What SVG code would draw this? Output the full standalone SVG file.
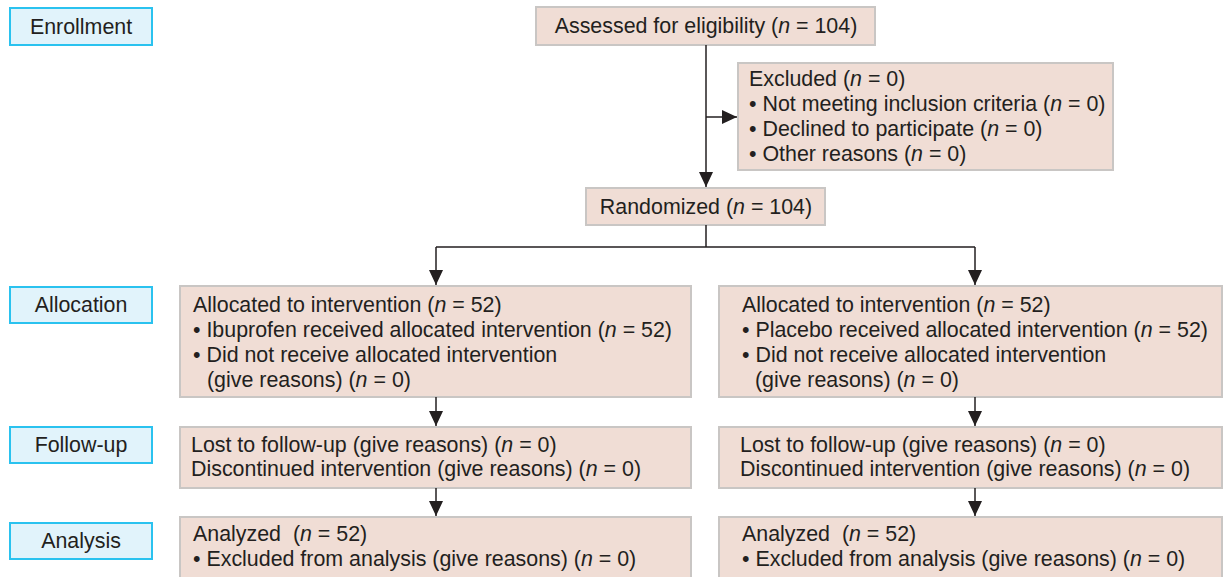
<svg xmlns="http://www.w3.org/2000/svg" width="1224" height="577" viewBox="0 0 1224 577">
<style>
.lbl rect{fill:#e1f3fb;stroke:#2ac2ef;stroke-width:2}
.box rect{fill:#f0ddd5;stroke:#c9c6c4;stroke-width:2}
text{font-family:"Liberation Sans",Arial,sans-serif;font-size:21.4px;fill:#231f20}
.c{text-anchor:middle}
.pre{white-space:pre}
.conn path{fill:none;stroke:#231f20;stroke-width:1.5}
</style>
<defs>
<marker id="ah" markerWidth="15" markerHeight="14" refX="15" refY="7" orient="auto" markerUnits="userSpaceOnUse" viewBox="0 0 15 14">
<path d="M0,0 L15,7 L0,14 Z" fill="#231f20"/>
</marker>
</defs>
<rect width="1224" height="577" fill="#fff"/>
<g id="lbl-enrollment" class="lbl"><rect x="10" y="8" width="142" height="37"/><text class="c" x="81" y="34">Enrollment</text></g>
<g id="lbl-allocation" class="lbl"><rect x="10" y="287" width="142" height="36"/><text class="c" x="81" y="312">Allocation</text></g>
<g id="lbl-followup" class="lbl"><rect x="10" y="427" width="142" height="36"/><text class="c" x="81" y="452">Follow-up</text></g>
<g id="lbl-analysis" class="lbl"><rect x="10" y="523" width="142" height="36"/><text class="c" x="81" y="548">Analysis</text></g>

<g id="assessed" class="box"><rect x="536" y="7" width="339" height="38"/><text class="c" x="706" y="33">Assessed for eligibility (<tspan font-style="italic">n</tspan> = 104)</text></g>
<g id="excluded" class="box"><rect x="738" y="63" width="375" height="107"/>
<text x="749" y="86">Excluded (<tspan font-style="italic">n</tspan> = 0)</text>
<text x="749" y="111">• Not meeting inclusion criteria (<tspan font-style="italic">n</tspan> = 0)</text>
<text x="749" y="136">• Declined to participate (<tspan font-style="italic">n</tspan> = 0)</text>
<text x="749" y="161">• Other reasons (<tspan font-style="italic">n</tspan> = 0)</text></g>
<g id="randomized" class="box"><rect x="586" y="188" width="239" height="37"/><text class="c" x="706" y="214">Randomized (<tspan font-style="italic">n</tspan> = 104)</text></g>

<g id="alloc-left" class="box"><rect x="180" y="286" width="511" height="111"/>
<text x="193" y="312">Allocated to intervention (<tspan font-style="italic">n</tspan> = 52)</text>
<text x="193" y="337">• Ibuprofen received allocated intervention (<tspan font-style="italic">n</tspan> = 52)</text>
<text x="193" y="362">• Did not receive allocated intervention</text>
<text x="207" y="387">(give reasons) (<tspan font-style="italic">n</tspan> = 0)</text></g>
<g id="alloc-right" class="box"><rect x="719" y="286" width="503" height="111"/>
<text x="742" y="312">Allocated to intervention (<tspan font-style="italic">n</tspan> = 52)</text>
<text x="742" y="337">• Placebo received allocated intervention (<tspan font-style="italic">n</tspan> = 52)</text>
<text x="742" y="362">• Did not receive allocated intervention</text>
<text x="755" y="387">(give reasons) (<tspan font-style="italic">n</tspan> = 0)</text></g>

<g id="follow-left" class="box"><rect x="180" y="427" width="511" height="61"/>
<text x="191" y="452">Lost to follow-up (give reasons) (<tspan font-style="italic">n</tspan> = 0)</text>
<text x="191" y="476">Discontinued intervention (give reasons) (<tspan font-style="italic">n</tspan> = 0)</text></g>
<g id="follow-right" class="box"><rect x="719" y="427" width="503" height="61"/>
<text x="740" y="452">Lost to follow-up (give reasons) (<tspan font-style="italic">n</tspan> = 0)</text>
<text x="740" y="476">Discontinued intervention (give reasons) (<tspan font-style="italic">n</tspan> = 0)</text></g>

<g id="analysis-left" class="box"><rect x="180" y="517" width="511" height="70"/>
<text class="pre" x="193" y="541">Analyzed  (<tspan font-style="italic">n</tspan> = 52)</text>
<text x="193" y="566">• Excluded from analysis (give reasons) (<tspan font-style="italic">n</tspan> = 0)</text></g>
<g id="analysis-right" class="box"><rect x="719" y="517" width="503" height="70"/>
<text class="pre" x="742" y="541">Analyzed  (<tspan font-style="italic">n</tspan> = 52)</text>
<text x="742" y="566">• Excluded from analysis (give reasons) (<tspan font-style="italic">n</tspan> = 0)</text></g>

<g id="connectors" class="conn">
<path d="M706,45 V187" marker-end="url(#ah)"/>
<path d="M706,117 H737" marker-end="url(#ah)"/>
<path d="M706,225 V247 M436,247 H975"/>
<path d="M436,247 V285" marker-end="url(#ah)"/>
<path d="M975,247 V285" marker-end="url(#ah)"/>
<path d="M436,397 V426" marker-end="url(#ah)"/>
<path d="M975,397 V426" marker-end="url(#ah)"/>
<path d="M436,488 V516" marker-end="url(#ah)"/>
<path d="M975,488 V516" marker-end="url(#ah)"/>
</g>
</svg>
